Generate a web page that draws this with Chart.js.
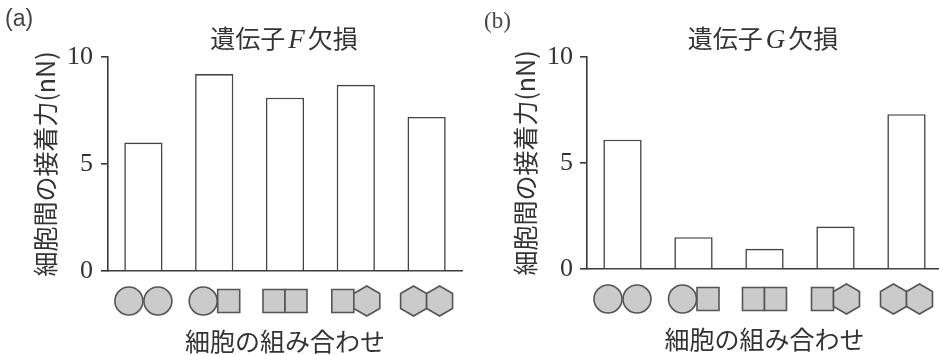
<!DOCTYPE html>
<html>
<head>
<meta charset="utf-8">
<script src="https://cdn.jsdelivr.net/npm/chart.js@4/dist/chart.umd.min.js"></script>
<style>
    html, body { margin: 0; padding: 0; background: #fff; overflow: hidden; }
    body { width: 939px; height: 355px; position: relative; }
    .panel { position: absolute; top: 0; height: 355px; }
    .tag { position: absolute; color: #444; font-size: 23px; }
    .ttl { position: absolute; width: 300px; text-align: center; color: #333;
           font-family: 'Noto Sans CJK JP', sans-serif; font-size: 25px; line-height: 26px; }
    .ttl i { font-family: 'Liberation Serif', serif; font-size: 27px; margin: 0 3px; }
</style>
</head>
<body>
<div class="panel" style="left:0;width:470px"><canvas id="chartF" width="470" height="355"></canvas></div>
<div class="panel" style="left:470px;width:472px"><canvas id="chartG" width="472" height="355"></canvas></div>
<div class="tag" style="left:5px;top:5px;font-family:'Liberation Sans',sans-serif">(a)</div>
<div class="tag" style="left:484px;top:8px;font-family:'Liberation Serif',serif">(b)</div>
<div class="ttl" style="left:134px;top:24px">遺伝子<i>F</i>欠損</div>
<div class="ttl" style="left:613px;top:24px">遺伝子<i>G</i>欠損</div>
<script>
// cell combinations (left cell, right cell)
var cellPairs = [
    ['circle', 'circle'],
    ['circle', 'square'],
    ['square', 'square'],
    ['square', 'hexagon'],
    ['hexagon', 'hexagon']
];
var categories = ['○○', '○□', '□□', '□⬡', '⬡⬡'];
var forceF = [6.0, 9.2, 8.1, 8.7, 7.2];   // 遺伝子F欠損 (nN)
var forceG = [6.1, 1.5, 0.95, 2.0, 7.3];  // 遺伝子G欠損 (nN)
var yTicks = [0, 5, 10];

var yTitle = '細胞間の接着力(nN)';
var xTitle = '細胞の組み合わせ';

var ink = '#3a3a3a';
var shapeW = { circle: 29, square: 22, hexagon: 26 };

function drawShape(ctx, kind, x, y) {
    ctx.beginPath();
    if (kind === 'circle') {
        ctx.arc(x, y, 14, 0, Math.PI * 2);
    } else if (kind === 'square') {
        ctx.rect(x - 11, y - 11.5, 22, 23);
    } else {
        // pointy-top hexagon
        for (var k = 0; k < 6; k++) {
            var a = -Math.PI / 2 + k * Math.PI / 3;
            var px = x + 15 * Math.cos(a);
            var py = y + 15 * Math.sin(a);
            if (k === 0) ctx.moveTo(px, py); else ctx.lineTo(px, py);
        }
        ctx.closePath();
    }
    ctx.fillStyle = '#cbcbcb';
    ctx.fill();
    ctx.lineWidth = 1.6;
    ctx.strokeStyle = '#555';
    ctx.stroke();
}

// draws the cell pictures in place of the x tick labels
var cellIcons = {
    id: 'cellIcons',
    afterDraw: function (chart) {
        var ctx = chart.ctx;
        var xs = chart.scales.x;
        var y = chart.chartArea.bottom + 30;
        ctx.save();
        cellPairs.forEach(function (pair, i) {
            var cx = xs.getPixelForValue(i);
            var w1 = shapeW[pair[0]], w2 = shapeW[pair[1]];
            var x0 = cx - (w1 + w2) / 2;
            drawShape(ctx, pair[0], x0 + w1 / 2, y);
            drawShape(ctx, pair[1], x0 + w1 + w2 / 2, y);
        });
        ctx.restore();
    }
};

function makeChart(id, values, opts) {
    return new Chart(document.getElementById(id), {
        type: 'bar',
        data: {
            labels: categories,
            datasets: [{
                data: values,
                backgroundColor: '#fff',
                borderColor: '#444',
                borderWidth: 1.6,
                borderSkipped: 'bottom',
                barPercentage: 0.54,
                categoryPercentage: 1
            }]
        },
        options: {
            responsive: false,
            animation: false,
            layout: { padding: { top: 57, right: opts.padRight, left: 0, bottom: 0 } },
            plugins: { legend: { display: false }, tooltip: { enabled: false } },
            scales: {
                x: {
                    grid: { display: false },
                    border: { display: true, color: ink, width: 1.6 },
                    ticks: { display: false },
                    title: {
                        display: true, text: xTitle, color: '#333',
                        font: { family: "'Noto Sans CJK JP', sans-serif", size: 25, lineHeight: 1.1 },
                        padding: { top: 0, bottom: opts.xTitlePad }
                    },
                    afterFit: function (scale) { scale.height = opts.xHeight; }
                },
                y: {
                    min: 0, max: 10,
                    afterBuildTicks: function (scale) {
                        scale.ticks = yTicks.map(function (v) { return { value: v }; });
                    },
                    grid: { drawOnChartArea: false, drawTicks: true, tickLength: 7, color: ink, lineWidth: 1.6 },
                    border: { display: true, color: ink, width: 1.6 },
                    ticks: {
                        color: '#333', padding: opts.tickPad,
                        font: { family: "'Liberation Serif', 'DejaVu Serif', serif", size: 26 }
                    },
                    title: {
                        display: true, text: yTitle, color: '#333',
                        font: { family: "'Noto Sans CJK JP', sans-serif", size: 25, lineHeight: 1.2 },
                        padding: { top: opts.yTitlePad, bottom: 0 }
                    },
                    afterFit: function (scale) { scale.width = opts.yWidth; }
                }
            }
        },
        plugins: [cellIcons]
    });
}

makeChart('chartF', forceF, { padRight: 8, yWidth: 108, xHeight: 84, xTitlePad: 0, yTitlePad: 30, tickPad: 8 });
makeChart('chartG', forceG, { padRight: 0, yWidth: 117, xHeight: 86, xTitlePad: 2, yTitlePad: 40, tickPad: 7 });
</script>
</body>
</html>
